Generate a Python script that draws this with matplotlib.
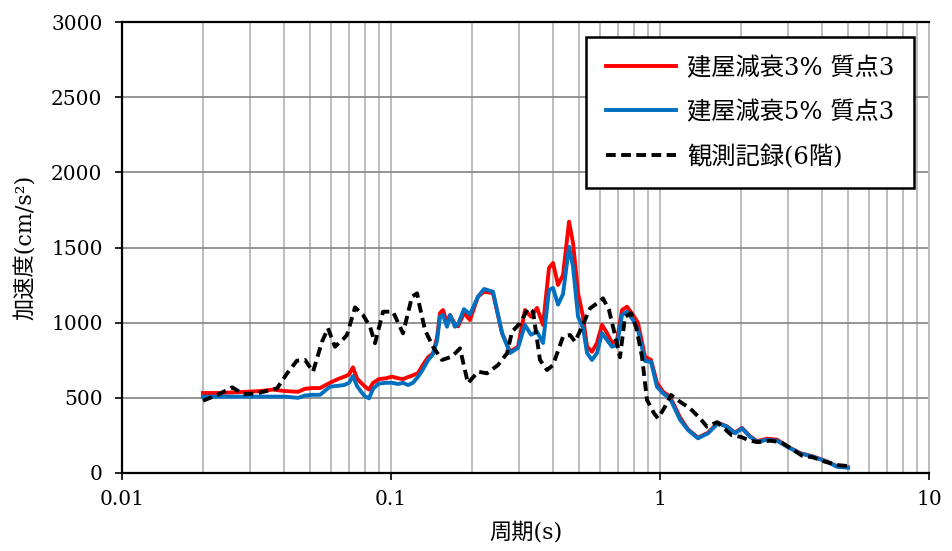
import numpy as np
import matplotlib
matplotlib.use('Agg')
import matplotlib.pyplot as plt
from matplotlib.ticker import FixedLocator, FixedFormatter, NullFormatter, LogLocator

plt.rcParams['font.family'] = ['DejaVu Serif', 'Noto Sans CJK JP']

# ── 応答スペクトル（読み取り値） ─────────────────────────────────────────
period_sim = [0.0200, 0.0224, 0.0252, 0.0287, 0.0326, 0.0364, 0.0404, 0.0451, 0.0479, 0.0508,
              0.0545, 0.0593, 0.0635, 0.0669, 0.0698, 0.0722, 0.0747, 0.0774, 0.0800, 0.0829,
              0.0857, 0.0902, 0.0958, 0.1009, 0.1062, 0.1108, 0.1157, 0.1207, 0.1260, 0.1315,
              0.1373, 0.1432, 0.1483, 0.1521, 0.1561, 0.1615, 0.1657, 0.1729, 0.1775, 0.1868,
              0.1966, 0.2106, 0.2217, 0.2394, 0.2587, 0.2770, 0.2966, 0.3148, 0.3314, 0.3490,
              0.3674, 0.3867, 0.4002, 0.4178, 0.4360, 0.4590, 0.4750, 0.4958, 0.5175, 0.5355,
              0.5587, 0.5832, 0.6087, 0.6353, 0.6631, 0.6921, 0.7224, 0.7540, 0.7937, 0.8284,
              0.8795, 0.9258, 0.9745, 1.026, 1.089, 1.187, 1.271, 1.384, 1.508, 1.643,
              1.775, 1.900, 2.017, 2.161, 2.294, 2.499, 2.722, 2.966, 3.314, 3.706,
              4.177, 4.550, 5.000]

acc_h3 = [532, 532, 535, 540, 545, 555, 545, 540, 560, 565,
          565, 600, 625, 640, 655, 703, 630, 600, 575, 555,
          599, 625, 630, 641, 630, 625, 638, 650, 665, 720,
          770, 795, 900, 1064, 1084, 998, 1051, 990, 975, 1064,
          1018, 1173, 1206, 1197, 931, 807, 840, 1084, 1040, 1098,
          985, 1364, 1397, 1251, 1317, 1672, 1530, 1197, 1040, 840,
          807, 865, 985, 931, 865, 885, 1084, 1106, 1051, 998,
          774, 752, 599, 541, 508, 370, 290, 235, 268, 335,
          310, 268, 300, 245, 212, 228, 222, 178, 133, 110,
          77, 45, 38]

acc_h5 = [508, 508, 508, 508, 508, 508, 508, 500, 515, 520,
          520, 574, 580, 585, 600, 645, 580, 541, 510, 497,
          560, 595, 600, 600, 592, 600, 585, 600, 640, 690,
          750, 790, 880, 1040, 1051, 973, 1051, 973, 990, 1090,
          1055, 1173, 1224, 1206, 931, 798, 832, 985, 920, 940,
          865, 1217, 1231, 1120, 1190, 1505, 1372, 1040, 965, 798,
          752, 798, 931, 885, 840, 852, 1051, 1073, 1018, 951,
          745, 740, 574, 530, 497, 355, 286, 231, 264, 331,
          308, 264, 297, 241, 208, 220, 215, 175, 131, 108,
          75, 42, 35]

period_obs = [0.0200, 0.0226, 0.0257, 0.0282, 0.0318, 0.0377, 0.0411, 0.0447, 0.0479, 0.0513,
              0.0554, 0.0583, 0.0619, 0.0663, 0.0686, 0.0735, 0.0787, 0.0836, 0.0872, 0.0934,
              0.1017, 0.1108, 0.1197, 0.1250, 0.1271, 0.1338, 0.1432, 0.1547, 0.1685, 0.1805,
              0.1932, 0.2106, 0.2275, 0.2499, 0.2699, 0.2818, 0.3017, 0.3231, 0.3373, 0.3580,
              0.3801, 0.4002, 0.4360, 0.4629, 0.4831, 0.5129, 0.5493, 0.5832, 0.6140, 0.6463,
              0.6803, 0.7101, 0.7413, 0.7804, 0.8145, 0.8571, 0.8947, 0.9500, 0.9831, 1.044,
              1.099, 1.187, 1.293, 1.408, 1.495, 1.629, 1.729, 1.852, 2.000, 2.161,
              2.313, 2.564, 2.818, 3.017, 3.373, 3.706, 4.108, 4.550, 5.000]

acc_obs = [481, 519, 570, 525, 530, 563, 663, 747, 752, 674,
           873, 963, 840, 889, 918, 1102, 1051, 973, 863, 1073,
           1073, 929, 1173, 1195, 1129, 951, 840, 752, 774, 829,
           597, 674, 663, 718, 796, 940, 996, 1095, 1073, 752,
           685, 718, 907, 918, 873, 973, 1095, 1129, 1162, 1084,
           918, 770, 1040, 1062, 973, 774, 486, 397, 364, 441,
           519, 474, 430, 364, 308, 338, 297, 250, 240, 215,
           205, 215, 205, 172, 115, 104, 75, 53, 46]

labels = ['建屋減衰3% 質点3', '建屋減衰5% 質点3', '観測記録(6階)']
x_ticks = [0.01, 0.1, 1, 10]
x_ticklabels = ['0.01', '0.1', '1', '10']
y_ticks = [0, 500, 1000, 1500, 2000, 2500, 3000]

fig = plt.figure(figsize=(9.52, 5.51), dpi=100)
ax = fig.add_axes([122 / 952, 1 - 473 / 551, 807 / 952, 451 / 551])

ax.plot(period_sim, acc_h3, color='#FF0000', lw=2.8, label=labels[0], zorder=3)
ax.plot(period_sim, acc_h5, color='#0070C0', lw=2.8, label=labels[1], zorder=4)
ax.plot(period_obs, acc_obs, color='black', lw=2.8, linestyle=(0, (2.5, 1.4)),
        dash_capstyle='butt', label=labels[2], zorder=5)

ax.set_xscale('log')
ax.set_xlim(0.01, 10)
ax.set_ylim(0, 3000)

ax.xaxis.set_major_locator(FixedLocator(x_ticks))
ax.xaxis.set_major_formatter(FixedFormatter(x_ticklabels))
ax.xaxis.set_minor_locator(LogLocator(base=10, subs=np.arange(2, 10)))
ax.xaxis.set_minor_formatter(NullFormatter())
ax.set_yticks(y_ticks)

ax.grid(True, which='major', axis='y', color='#8c8c8c', lw=1.3)
ax.grid(True, which='both', axis='x', color='#b8b8b8', lw=1.3)
ax.set_axisbelow(True)

ax.tick_params(axis='x', which='major', direction='out', length=5, width=1.2,
               labelsize=14.5, pad=7)
ax.tick_params(axis='x', which='minor', length=0)
ax.tick_params(axis='y', direction='out', length=5, width=1.2, labelsize=14.5, pad=9)

for side in ['left', 'bottom', 'top']:
    ax.spines[side].set_color('black')
    ax.spines[side].set_linewidth(1.6)
ax.spines['right'].set_color('#b8b8b8')
ax.spines['right'].set_linewidth(1.3)

ax.set_xlabel('周期(s)', fontsize=16, labelpad=9)
ax.set_ylabel('加速度(cm/s²)', fontsize=16, labelpad=10)

leg = ax.legend(loc='upper right', bbox_to_anchor=(914 / 952, 1 - 37 / 551),
                bbox_transform=fig.transFigure, borderaxespad=0,
                fontsize=17.5, handlelength=2.9, handletextpad=0.45,
                labelspacing=0.85, borderpad=0.8, fancybox=False,
                framealpha=1, edgecolor='black')
leg.get_frame().set_linewidth(1.8)

fig.savefig('out.png', dpi=100)
